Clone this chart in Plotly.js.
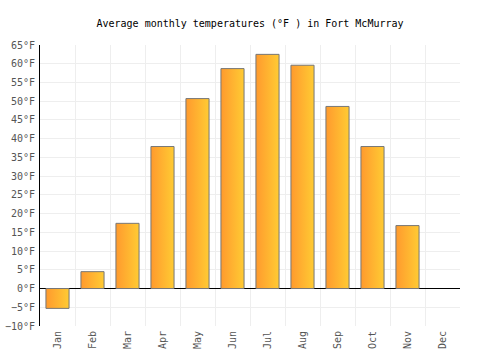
<!DOCTYPE html>
<html>
<head>
<meta charset="utf-8">
<script src="https://cdn.plot.ly/plotly-3.0.1.min.js"></script>
<style>html,body{margin:0;padding:0;background:#fff;}#chart{width:500px;height:350px;}</style>
</head>
<body>
<div id="chart"></div>
<script>
var months = ["Jan","Feb","Mar","Apr","May","Jun","Jul","Aug","Sep","Oct","Nov","Dec"];
var tempsF = [-5.3, 4.5, 17.4, 37.9, 50.7, 58.7, 62.5, 59.6, 48.6, 37.9, 16.8, null];
var yTicks = [-10,-5,0,5,10,15,20,25,30,35,40,45,50,55,60,65];
var yTickText = yTicks.map(function (v) { return (v < 0 ? "\u2212" + Math.abs(v) : String(v)) + "°F"; });

var font = "'DejaVu Sans Mono', 'Liberation Mono', monospace";

var trace = {
  type: "bar",
  x: months,
  y: tempsF,
  marker: { color: "#FFB330", line: { color: "#777777", width: 1 } },
  hoverinfo: "x+y"
};

var layout = {
  width: 500, height: 350,
  margin: { l: 40, r: 40, t: 45, b: 24, pad: 0 },
  paper_bgcolor: "#ffffff",
  plot_bgcolor: "#ffffff",
  showlegend: false,
  bargap: 0.34,
  title: { text: "Average monthly temperatures (°F ) in Fort McMurray", x: 0.5, xanchor: "center", y: 0.934, yanchor: "middle",
           font: { family: font, size: 10, color: "#000" } },
  xaxis: {
    type: "category",
    tickangle: -90,
    showgrid: true, gridcolor: "#eeeeee", gridwidth: 1,
    tickson: "boundaries",
    ticks: "",
    showline: false,
    zeroline: false,
    automargin: false,
    ticklabelstandoff: 2,
    tickfont: { family: font, size: 10, color: "#555555" }
  },
  yaxis: {
    range: [-10, 65],
    tickmode: "array",
    tickvals: yTicks,
    ticktext: yTickText,
    showgrid: true, gridcolor: "#eeeeee", gridwidth: 1,
    zeroline: true, zerolinecolor: "#000000", zerolinewidth: 1,
    showline: true, linecolor: "#000000", linewidth: 1,
    ticks: "",
    automargin: false,
    ticklabelstandoff: 2,
    tickfont: { family: font, size: 10, color: "#555555" }
  }
};

Plotly.newPlot("chart", [trace], layout, { displayModeBar: false, staticPlot: true }).then(function (gd) {
  var svg = gd.querySelector("svg.main-svg");
  var ns = "http://www.w3.org/2000/svg";
  var defs = svg.querySelector("defs") || svg.insertBefore(document.createElementNS(ns, "defs"), svg.firstChild);
  var lg = document.createElementNS(ns, "linearGradient");
  lg.setAttribute("id", "barGrad");
  lg.setAttribute("x1", "0"); lg.setAttribute("y1", "0");
  lg.setAttribute("x2", "1"); lg.setAttribute("y2", "0");
  [["0", "#FF9A2E"], ["1", "#FFCB33"]].forEach(function (s) {
    var st = document.createElementNS(ns, "stop");
    st.setAttribute("offset", s[0]);
    st.setAttribute("stop-color", s[1]);
    lg.appendChild(st);
  });
  defs.appendChild(lg);
  gd.querySelectorAll(".bars .point path").forEach(function (p) {
    p.style.fill = "url(#barGrad)";
  });
});
</script>
</body>
</html>
